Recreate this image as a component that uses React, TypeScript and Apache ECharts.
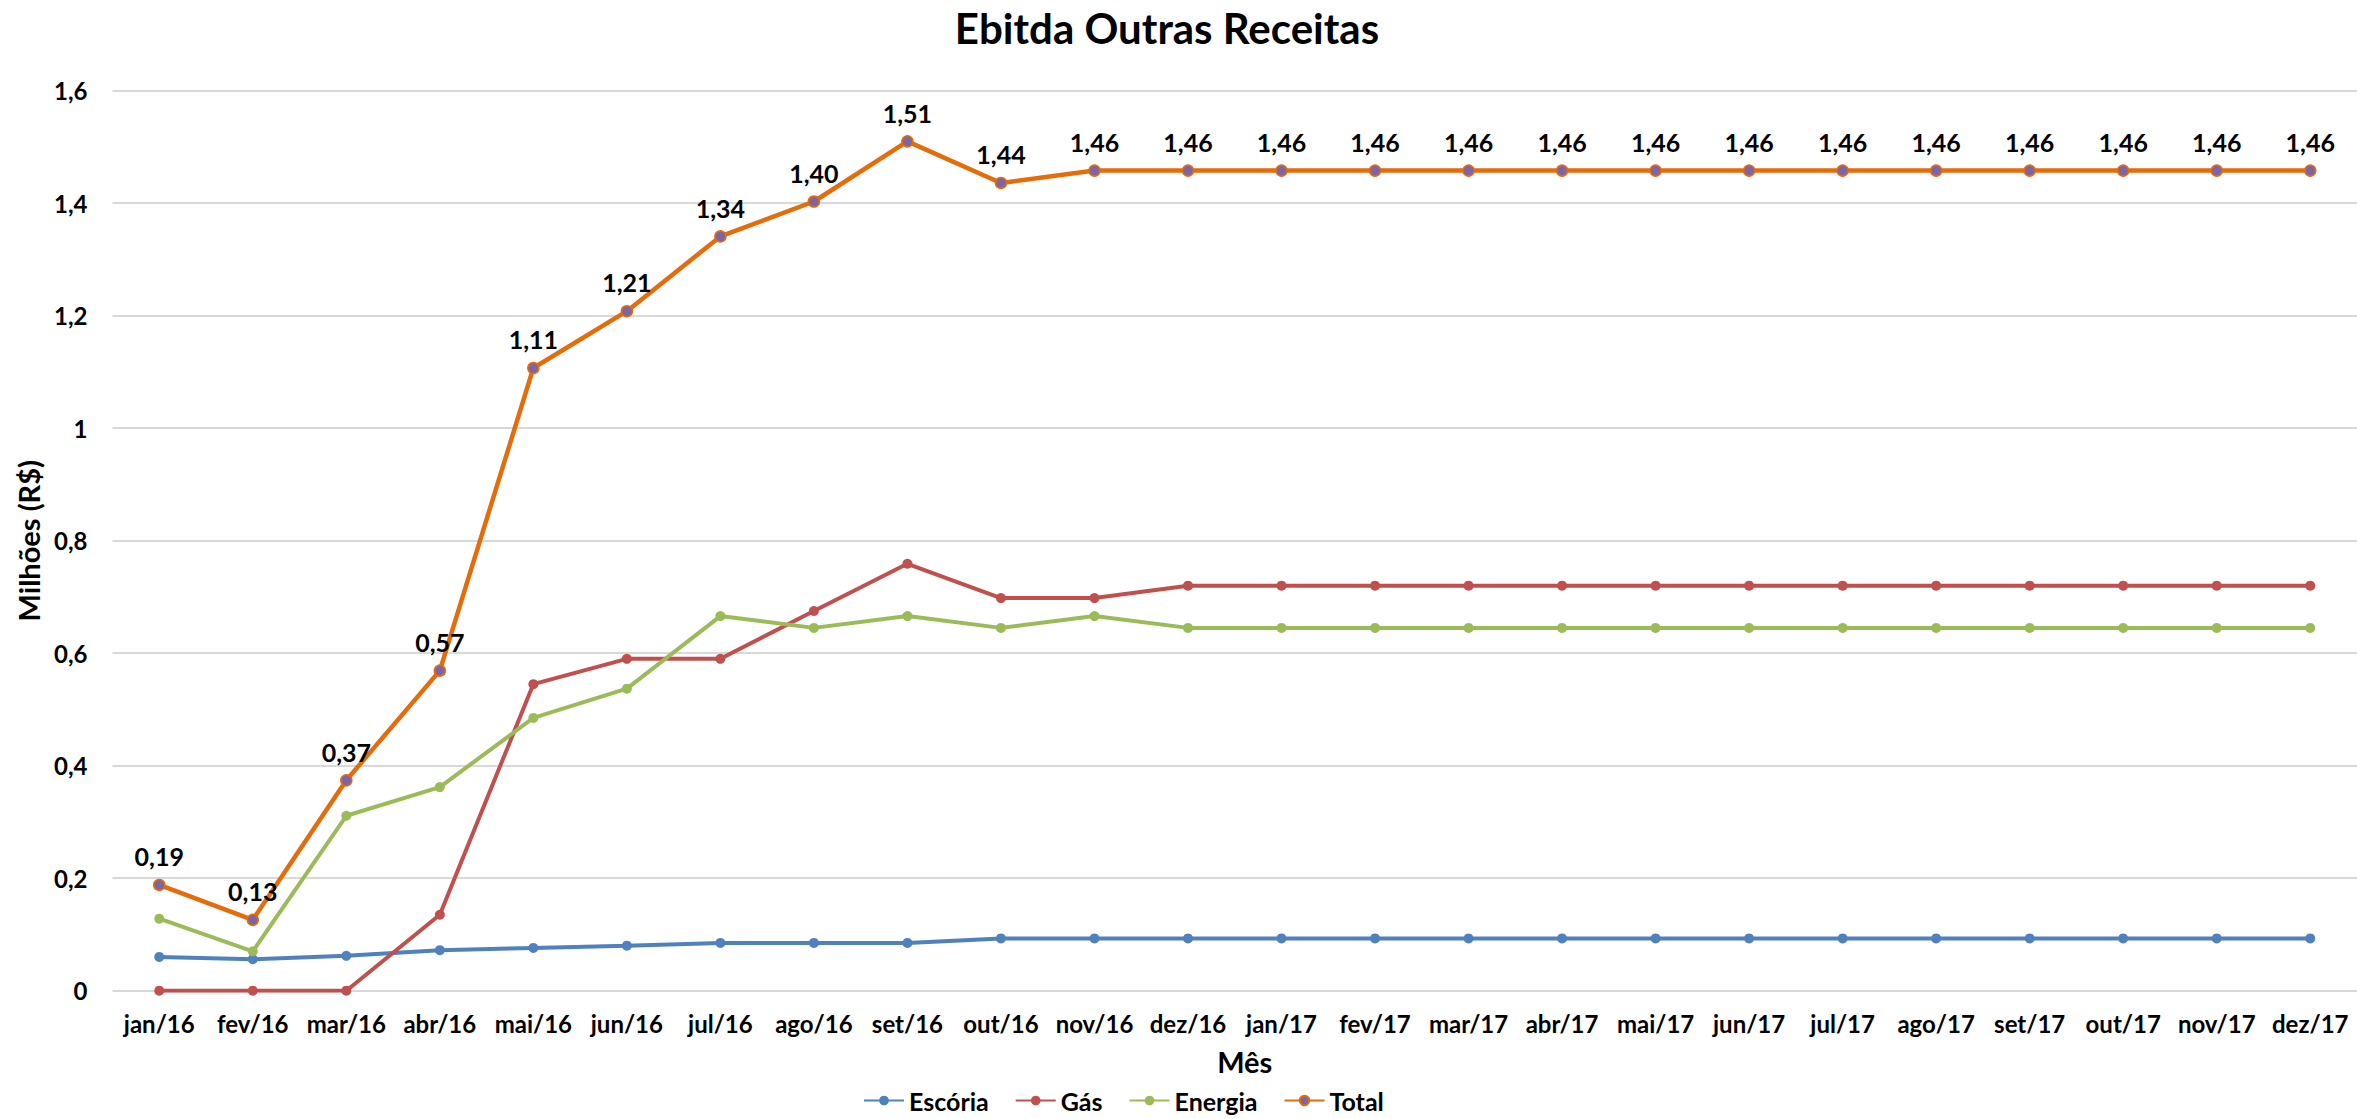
import React, { useEffect, useRef } from 'react';
import * as echarts from 'echarts';

// Month categories (Jan 2016 – Dec 2017)
const months: string[] = [
  'jan/16', 'fev/16', 'mar/16', 'abr/16', 'mai/16', 'jun/16',
  'jul/16', 'ago/16', 'set/16', 'out/16', 'nov/16', 'dez/16',
  'jan/17', 'fev/17', 'mar/17', 'abr/17', 'mai/17', 'jun/17',
  'jul/17', 'ago/17', 'set/17', 'out/17', 'nov/17', 'dez/17',
];

// EBITDA per revenue stream, in millions of R$
const escoria: number[] = [
  0.060, 0.056, 0.062, 0.072, 0.076, 0.080,
  0.085, 0.085, 0.085, 0.093, 0.093, 0.093,
  0.093, 0.093, 0.093, 0.093, 0.093, 0.093,
  0.093, 0.093, 0.093, 0.093, 0.093, 0.093,
];
const gas: number[] = [
  0, 0, 0, 0.135, 0.545, 0.590,
  0.590, 0.675, 0.759, 0.698, 0.698, 0.720,
  0.720, 0.720, 0.720, 0.720, 0.720, 0.720,
  0.720, 0.720, 0.720, 0.720, 0.720, 0.720,
];
const energia: number[] = [
  0.128, 0.070, 0.311, 0.362, 0.485, 0.537,
  0.666, 0.645, 0.666, 0.645, 0.666, 0.645,
  0.645, 0.645, 0.645, 0.645, 0.645, 0.645,
  0.645, 0.645, 0.645, 0.645, 0.645, 0.645,
];
const total: number[] = [
  0.188, 0.126, 0.374, 0.569, 1.107, 1.208,
  1.341, 1.403, 1.510, 1.436, 1.458, 1.458,
  1.458, 1.458, 1.458, 1.458, 1.458, 1.458,
  1.458, 1.458, 1.458, 1.458, 1.458, 1.458,
];

const FONT = 'Lato, "Open Sans", sans-serif';
const BLUE = '#4F81BD';
const RED = '#C0504D';
const GREEN = '#9BBB59';
const ORANGE = '#E46C0A';
const PURPLE = '#8064A2';

const ptBR = (v: number, digits?: number) =>
  (digits === undefined ? String(Math.round(v * 10) / 10) : v.toFixed(digits)).replace('.', ',');

function lineSeries(name: string, data: number[], color: string) {
  return {
    name,
    type: 'line',
    data,
    symbol: 'circle',
    symbolSize: 10,
    lineStyle: { color, width: 4 },
    itemStyle: { color },
    emphasis: { disabled: true },
    silent: true,
  };
}

export default function App() {
  const ref = useRef<HTMLDivElement>(null);

  useEffect(() => {
    document.body.style.margin = '0';
    const chart = echarts.init(ref.current!, null, { renderer: 'svg' });

    chart.setOption({
      animation: false,
      backgroundColor: '#ffffff',
      textStyle: { fontFamily: FONT },
      graphic: [
        {
          type: 'text',
          x: 1167,
          y: 28,
          style: {
            text: 'Ebitda Outras Receitas',
            fontFamily: FONT,
            fontWeight: 'bold',
            fontSize: 42,
            fill: '#000',
            align: 'center',
            verticalAlign: 'middle',
          },
        },
      ],
      legend: {
        left: 863,
        top: 1088,
        padding: 0,
        itemGap: 26,
        itemWidth: 40,
        itemHeight: 12,
        textStyle: { fontFamily: FONT, fontWeight: 'bold', fontSize: 25, color: '#000' },
        data: ['Escória', 'Gás', 'Energia', 'Total'],
      },
      grid: { left: 112.5, top: 90.7, width: 2250, height: 900, containLabel: false },
      xAxis: {
        type: 'category',
        data: months,
        boundaryGap: true,
        name: 'Mês',
        nameLocation: 'middle',
        nameGap: 56,
        nameTextStyle: {
          fontFamily: FONT,
          fontWeight: 'bold',
          fontSize: 29,
          color: '#000',
          padding: [0, 0, 0, 20],
        },
        axisLine: { show: false },
        axisTick: { show: false },
        axisLabel: {
          interval: 0,
          margin: 21,
          fontFamily: FONT,
          fontWeight: 'bold',
          fontSize: 24,
          color: '#000',
        },
      },
      yAxis: {
        type: 'value',
        min: 0,
        max: 1.6,
        interval: 0.2,
        name: 'Milhões (R$)',
        nameLocation: 'middle',
        nameGap: 66,
        nameTextStyle: { fontFamily: FONT, fontWeight: 'bold', fontSize: 29, color: '#000' },
        axisLine: { show: false },
        axisTick: { show: false },
        splitLine: { lineStyle: { color: '#D9D9D9', width: 2 } },
        axisLabel: {
          margin: 25,
          fontFamily: FONT,
          fontWeight: 'bold',
          fontSize: 24,
          color: '#000',
          formatter: (v: number) => ptBR(v),
        },
      },
      series: [
        lineSeries('Escória', escoria, BLUE),
        lineSeries('Gás', gas, RED),
        lineSeries('Energia', energia, GREEN),
        {
          name: 'Total',
          type: 'line',
          data: total,
          symbol: 'circle',
          symbolSize: 11,
          lineStyle: { color: ORANGE, width: 4.5 },
          itemStyle: { color: PURPLE, borderColor: ORANGE, borderWidth: 1.5 },
          label: {
            show: true,
            position: 'top',
            distance: 10,
            fontFamily: FONT,
            fontWeight: 'bold',
            fontSize: 25,
            color: '#000',
            formatter: (p: any) => ptBR(p.value as number, 2),
          },
          emphasis: { disabled: true },
          silent: true,
        },
      ],
    });

    return () => chart.dispose();
  }, []);

  return <div ref={ref} style={{ width: 2357, height: 1119, background: '#fff' }} />;
}
